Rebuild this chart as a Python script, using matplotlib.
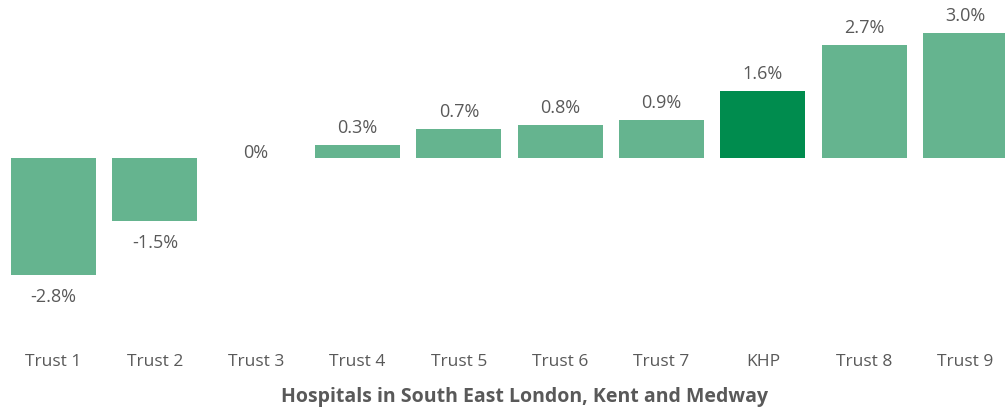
import matplotlib.pyplot as plt
import numpy as np

plt.rcParams['font.family'] = ['Open Sans', 'DejaVu Sans']

trusts = ['Trust 1', 'Trust 2', 'Trust 3', 'Trust 4', 'Trust 5', 'Trust 6', 'Trust 7', 'KHP', 'Trust 8', 'Trust 9']
values = [-2.8, -1.5, 0.0, 0.3, 0.7, 0.8, 0.9, 1.6, 2.7, 3.0]
labels = ['-2.8%', '-1.5%', '0%', '0.3%', '0.7%', '0.8%', '0.9%', '1.6%', '2.7%', '3.0%']

light = '#65B48F'
dark = '#008C4E'
grey = '#595959'

fig = plt.figure(figsize=(10.05, 4.09), dpi=100)
# axes covers pixel rows 20..330 (zero line at ~158 px)
ax = fig.add_axes([0, 79 / 409, 1, 310 / 409])

x = np.arange(len(trusts))
colors = [dark if t == 'KHP' else light for t in trusts]
ax.bar(x, values, width=0.84, color=colors)

ax.set_xlim(-0.528, 9.39)
ax.set_ylim(-(330 - 158) / 41.7, (158 - 20) / 41.7)

for xi, v, lab in zip(x, values, labels):
    if v < 0:
        yy = v - 0.54
    elif v == 0:
        yy = 0.12
    else:
        yy = v + 0.41
    ax.text(xi, yy, lab, ha='center', va='center', fontsize=13, color=grey)

ax.set_xticks(x)
ax.set_xticklabels(trusts, fontsize=12.5, color=grey)
ax.tick_params(axis='x', length=0, pad=17)
ax.set_yticks([])
for s in ax.spines.values():
    s.set_visible(False)

fig.text(525 / 1005, 1 - 397 / 409, 'Hospitals in South East London, Kent and Medway',
         ha='center', va='center', fontsize=14, fontweight='bold', color=grey)

fig.savefig('out.png', dpi=100)
